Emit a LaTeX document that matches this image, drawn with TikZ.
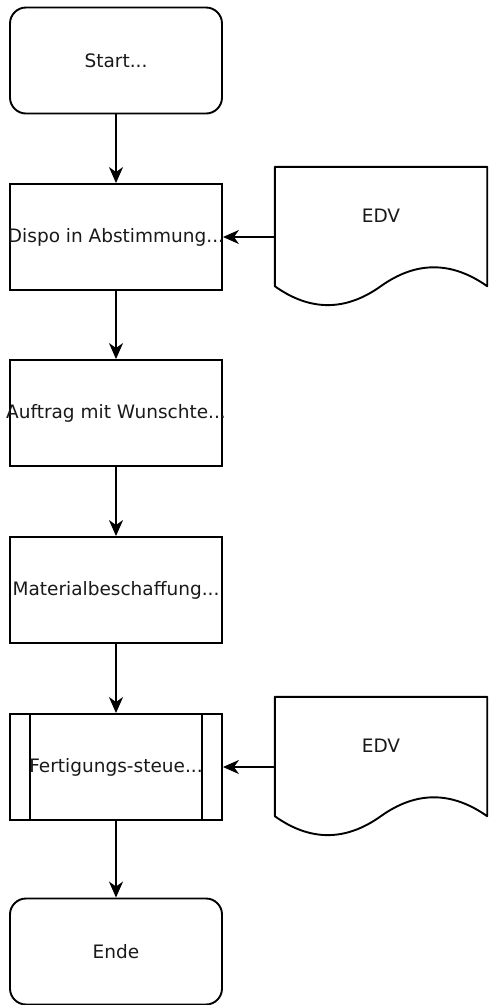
\documentclass[tikz,border=0pt]{standalone}
\usepackage{fontspec}
\setmainfont{DejaVu Sans}
\usetikzlibrary{arrows.meta,calc}
\tikzset{
  base/.style={draw, line width=1.9pt, minimum width=212pt, minimum height=106pt, inner sep=0pt},
  terminal/.style={base, rounded corners=16pt},
  procbox/.style={base},
  lbl/.style={inner sep=0pt, font=\fontsize{18.5}{22}\selectfont, text=black!90},
  docarea/.style={minimum width=212pt, minimum height=140pt, inner sep=0pt},
  conn/.style={line width=1.9pt, -{Stealth[length=16pt,width=14pt,inset=5pt]}},
  outline/.style={line width=1.9pt}
}
\begin{document}
\begin{tikzpicture}[x=1pt,y=-1pt]
\useasboundingbox (0,0) rectangle (492,1005);
\node[terminal] (start) at (116,60.5) {};
\node[procbox] (dispo) at (116,237) {};
\node[procbox] (auftrag) at (116,413) {};
\node[procbox] (material) at (116,590) {};
\node[procbox] (fert) at (116,767) {};
\node[terminal] (ende) at (116,951.5) {};
\draw[outline] ([xshift=21pt]fert.north west) -- ([xshift=21pt]fert.south west);
\draw[outline] ([xshift=-21pt]fert.north east) -- ([xshift=-21pt]fert.south east);
\node[lbl] (startl) at (start.center) {Start...};
\node[lbl] (dispol) at (dispo.center) {Dispo in Abstimmung...};
\node[lbl] (auftragl) at (auftrag.center) {Auftrag mit Wunschte...};
\node[lbl] (materiall) at (material.center) {Materialbeschaffung...};
\node[lbl] (fertl) at (fert.center) {Fertigungs-steue...};
\node[lbl] (endel) at (ende.center) {Ende};
% documents
\foreach \d/\yy in {edvA/237, edvB/767}{
  \node[docarea] (\d) at (381,\yy) {};
  \draw[outline, line join=round] (\d.north west) -- (\d.north east) -- ([yshift=21pt]\d.south east)
    .. controls ([shift={(176.67pt,46.2pt)}]\d.south west) and ([shift={(141.33pt,46.2pt)}]\d.south west) .. ([shift={(106pt,21pt)}]\d.south west)
    .. controls ([shift={(70.67pt,-4.2pt)}]\d.south west) and ([shift={(35.33pt,-4.2pt)}]\d.south west) .. ([yshift=21pt]\d.south west) -- cycle;
  \node[lbl] (\d t) at ([yshift=21pt]\d.center) {EDV};
}
\draw[conn] (start) -- (dispo);
\draw[conn] (dispo) -- (auftrag);
\draw[conn] (auftrag) -- (material);
\draw[conn] (material) -- (fert);
\draw[conn] (fert) -- (ende);
\draw[conn] (edvA.west) -- (dispo.east);
\draw[conn] (edvB.west) -- (fert.east);
\end{tikzpicture}
\end{document}
